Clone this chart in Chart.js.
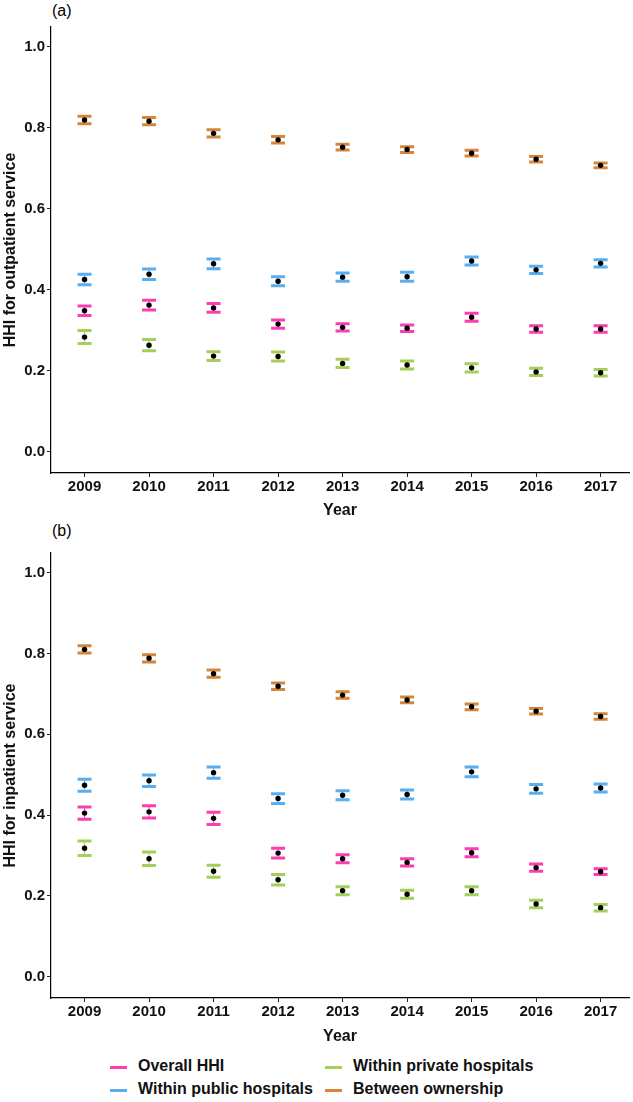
<!DOCTYPE html>
<html>
<head>
<meta charset="utf-8">
<script src="https://cdn.jsdelivr.net/npm/chart.js@4/dist/chart.umd.min.js"></script>
<style>
  body { margin: 0; background: #fff; font-family: "Liberation Sans", Arial, sans-serif; }
  .wrap { position: relative; width: 633px; height: 1102px; }
  .panel { position: absolute; left: 0; width: 633px; height: 520px; }
  .tag { position: absolute; font-size: 16px; color: #000; }
  .legend { position: absolute; font-size: 16px; font-weight: bold; color: #111; }
  .legend .item { position: absolute; white-space: nowrap; }
  .legend .sw { position: absolute; width: 17px; height: 3px; top: -1px; }
  .legend .lb { position: absolute; left: 28px; top: -10px; }
</style>
</head>
<body>
<div class="wrap">
  <div class="tag" style="left:52px; top:2px;">(a)</div>
  <div class="panel" style="top:0px;"><canvas id="chartA"></canvas></div>
  <div class="tag" style="left:52px; top:522px;">(b)</div>
  <div class="panel" style="top:526px;"><canvas id="chartB"></canvas></div>
  <div class="legend" id="legend"></div>
</div>
<script>
// categories
const years = [2009, 2010, 2011, 2012, 2013, 2014, 2015, 2016, 2017];
const seriesNames = ['Overall HHI', 'Within public hospitals', 'Within private hospitals', 'Between ownership'];
const seriesColors = ['#FF3DB2', '#58AEEE', '#A5CF5A', '#D4873C'];
const yTicks = [0.0, 0.2, 0.4, 0.6, 0.8, 1.0];

// (a) outpatient: point estimates and half-width of the interval
const outOverall = [0.348, 0.362, 0.355, 0.315, 0.307, 0.305, 0.332, 0.303, 0.303];
const outOverallErr = [0.012, 0.012, 0.011, 0.010, 0.009, 0.008, 0.010, 0.008, 0.008];
const outPublic = [0.425, 0.438, 0.464, 0.421, 0.431, 0.432, 0.471, 0.449, 0.465];
const outPublicErr = [0.013, 0.013, 0.012, 0.011, 0.010, 0.011, 0.010, 0.009, 0.009];
const outPrivate = [0.283, 0.263, 0.236, 0.235, 0.218, 0.214, 0.207, 0.197, 0.195];
const outPrivateErr = [0.016, 0.014, 0.011, 0.011, 0.010, 0.010, 0.010, 0.009, 0.008];
const outBetween = [0.819, 0.816, 0.786, 0.770, 0.752, 0.746, 0.737, 0.722, 0.707];
const outBetweenErr = [0.009, 0.009, 0.009, 0.008, 0.007, 0.007, 0.007, 0.007, 0.006];

// (b) inpatient
const inOverall = [0.405, 0.408, 0.392, 0.306, 0.292, 0.283, 0.307, 0.270, 0.260];
const inOverallErr = [0.015, 0.015, 0.015, 0.012, 0.010, 0.009, 0.010, 0.009, 0.007];
const inPublic = [0.474, 0.485, 0.505, 0.441, 0.449, 0.451, 0.507, 0.465, 0.467];
const inPublicErr = [0.015, 0.014, 0.014, 0.012, 0.011, 0.011, 0.012, 0.011, 0.010];
const inPrivate = [0.318, 0.292, 0.261, 0.240, 0.213, 0.204, 0.213, 0.180, 0.171];
const inPrivateErr = [0.018, 0.017, 0.015, 0.013, 0.010, 0.010, 0.010, 0.009, 0.008];
const inBetween = [0.810, 0.788, 0.750, 0.719, 0.697, 0.685, 0.668, 0.657, 0.644];
const inBetweenErr = [0.009, 0.009, 0.009, 0.008, 0.008, 0.007, 0.007, 0.007, 0.007];

const FONT = "'Liberation Sans', Arial, sans-serif";

// draws the interval bars (thin stem + thick caps) behind the black points
const errorBars = {
  id: 'errorBars',
  beforeDatasetsDraw(chart) {
    const ctx = chart.ctx;
    const xs = chart.scales.x, ys = chart.scales.y;
    chart.data.datasets.forEach(ds => {
      ds.data.forEach((p, i) => {
        const e = ds.err[i];
        const x = xs.getPixelForValue(p.x);
        const yt = ys.getPixelForValue(p.y + e);
        const yb = ys.getPixelForValue(p.y - e);
        ctx.save();
        ctx.strokeStyle = ds.barColor;
        ctx.lineWidth = 1;
        ctx.beginPath();
        ctx.moveTo(x, yt);
        ctx.lineTo(x, yb);
        ctx.stroke();
        ctx.lineWidth = 3;
        ctx.beginPath();
        ctx.moveTo(x - 7, yt);
        ctx.lineTo(x + 7, yt);
        ctx.moveTo(x - 7, yb);
        ctx.lineTo(x + 7, yb);
        ctx.stroke();
        ctx.restore();
      });
    });
  }
};

function makeSet(values, errs, idx) {
  return {
    label: seriesNames[idx],
    data: years.map((y, i) => ({ x: y, y: values[i] })),
    err: errs,
    barColor: seriesColors[idx],
    showLine: false,
    pointRadius: 2.7,
    pointBackgroundColor: '#000',
    pointBorderWidth: 0
  };
}

function makeChart(id, title, sets, xHeight) {
  return new Chart(document.getElementById(id), {
    type: 'scatter',
    data: { datasets: sets },
    options: {
      responsive: true,
      maintainAspectRatio: false,
      animation: false,
      layout: { padding: { top: 27, right: 2, left: 0, bottom: 0 } },
      plugins: { legend: { display: false }, tooltip: { enabled: false } },
      scales: {
        x: {
          type: 'linear',
          min: 2008.48,
          max: 2017.44,
          afterFit: s => { s.height = xHeight; },
          afterBuildTicks: s => { s.ticks = years.map(v => ({ value: v })); },
          ticks: {
            callback: v => String(v),
            color: '#111',
            font: { family: FONT, size: 15, weight: 'bold' },
            padding: 1,
            maxRotation: 0
          },
          grid: { display: true, drawOnChartArea: false, drawTicks: true, tickLength: 4, color: '#222' },
          border: { display: true, color: '#000', width: 1.2 },
          title: {
            display: true, text: 'Year', color: '#111',
            font: { family: FONT, size: 16, weight: 'bold' },
            padding: { top: 0, bottom: 0 }
          }
        },
        y: {
          min: -0.0526,
          max: 1.0486,
          afterFit: s => { s.width = 51; },
          afterBuildTicks: s => { s.ticks = yTicks.map(v => ({ value: v })); },
          ticks: {
            callback: v => v.toFixed(1),
            color: '#111',
            font: { family: FONT, size: 15, weight: 'bold' },
            padding: 2
          },
          grid: { display: true, drawOnChartArea: false, drawTicks: true, tickLength: 4, color: '#222' },
          border: { display: true, color: '#000', width: 1.2 },
          title: {
            display: true, text: title, color: '#111',
            font: { family: FONT, size: 16, weight: 'bold' },
            padding: { top: 1, bottom: 0 }
          }
        }
      }
    },
    plugins: [errorBars]
  });
}

makeChart('chartA', 'HHI for outpatient service', [
  makeSet(outOverall, outOverallErr, 0),
  makeSet(outPublic, outPublicErr, 1),
  makeSet(outPrivate, outPrivateErr, 2),
  makeSet(outBetween, outBetweenErr, 3)
], 47);

makeChart('chartB', 'HHI for inpatient service', [
  makeSet(inOverall, inOverallErr, 0),
  makeSet(inPublic, inPublicErr, 1),
  makeSet(inPrivate, inPrivateErr, 2),
  makeSet(inBetween, inBetweenErr, 3)
], 48);

// legend, two columns, filled column by column as in the figure
const legendPos = [[110, 1067], [110, 1090], [325, 1067], [325, 1090]];
const legend = document.getElementById('legend');
seriesNames.forEach((name, i) => {
  const pos = legendPos[i];
  const item = document.createElement('div');
  item.className = 'item';
  item.style.left = pos[0] + 'px';
  item.style.top = pos[1] + 'px';
  item.innerHTML = '<div class="sw" style="background:' + seriesColors[i] + '"></div><div class="lb">' + name + '</div>';
  legend.appendChild(item);
});
</script>
</body>
</html>
